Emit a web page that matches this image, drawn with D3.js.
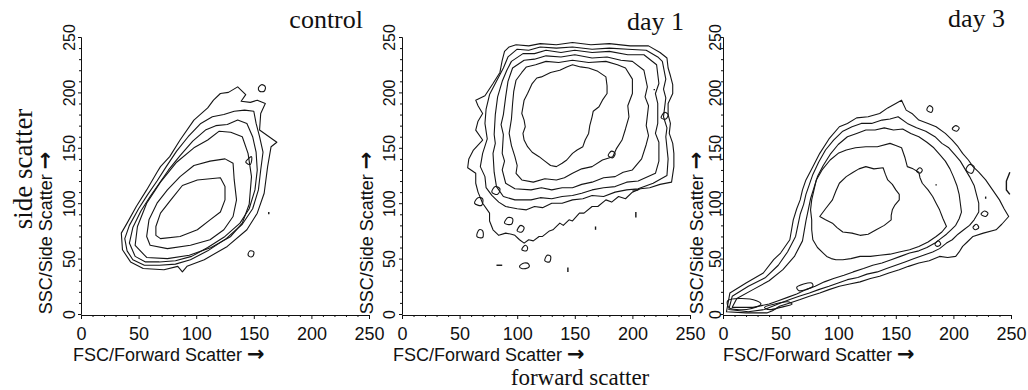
<!DOCTYPE html>
<html>
<head>
<meta charset="utf-8">
<script src="https://cdn.jsdelivr.net/npm/d3@7"></script>
<style>
  body { margin: 0; background: #fff; }
  svg { display: block; }
</style>
</head>
<body>
<div id="chart"></div>
<script>
// Axis ticks
var majorTicks = [0, 50, 100, 150, 200, 250]
var minorTicks = [10, 20, 30, 40, 60, 70, 80, 90, 110, 120, 130, 140, 160, 170, 180, 190, 210, 220, 230, 240]

var panelTitles = ['control', 'day 1', 'day 3']
var xTitle = 'FSC/Forward Scatter '
var yTitle = 'SSC/Side Scatter '
var arrow = '\u2192'

// Contours: [FSC, SSC], outer ring first
var controlRings = [
  [[35,73],[40,82],[48,97],[57,112],[66,128],[69,133],[77,142],[86,157],[98,175],[110,186],[115,193],[121,199],[128,200],[136,205],[143,198],[139,192],[147,191],[153,193],[160,190],[156,181],[155,166],[166,158],[170,155],[165,151],[162,133],[159,109],[153,91],[144,76],[127,61],[107,49],[92,43],[88,38],[84,43],[72,40],[54,41],[43,47],[36,58]],
  [[38,68],[42,80],[50,95],[58,108],[66,120],[74,133],[83,147],[93,160],[104,172],[114,178],[124,180],[133,183],[142,184],[150,183],[152,172],[155,160],[158,146],[156,130],[154,112],[149,95],[140,81],[126,68],[110,57],[95,49],[82,45],[68,44],[55,44],[45,49],[40,57]],
  [[42,64],[45,78],[52,93],[60,106],[68,118],[76,130],[86,143],[97,156],[108,166],[117,170],[127,171],[136,175],[144,172],[149,160],[152,146],[153,130],[151,112],[146,95],[138,82],[125,70],[110,60],[96,52],[82,48],[68,47],[56,47],[47,52]],
  [[47,62],[49,79],[57,100],[69,119],[83,137],[98,150],[110,157],[120,165],[130,164],[140,160],[145,145],[148,124],[146,99],[140,82],[130,70],[113,60],[94,53],[75,50],[57,51]],
  [[57,70],[59,85],[66,100],[75,112],[86,124],[98,134],[112,138],[125,140],[132,136],[133,121],[135,103],[132,88],[124,76],[112,67],[95,62],[75,59],[60,62]],
  [[65,79],[69,91],[78,103],[88,116],[101,121],[121,123],[125,115],[125,103],[121,92],[112,85],[101,76],[86,70],[69,68],[65,71]]
]
var controlIslands = [
  [[154,204],[157,207],[160,205],[159,201],[155,201]],
  [[145,54],[147,57],[150,56],[149,52],[146,52]],
  [[143,137],[148,142],[147,135]]
]
var controlDashes = [
  [[163,90],[163,92]]
]

var day1Rings = [
  [[89,237],[93,241],[99,243],[110,242],[120,244],[134,243],[148,245],[164,243],[180,244],[198,242],[214,242],[224,236],[230,231],[231,222],[233,215],[235,207],[235,199],[231,190],[231,180],[233,172],[232,163],[235,154],[236,145],[236,133],[234,119],[224,117],[215,114],[207,113],[200,110],[194,104],[188,106],[182,101],[177,103],[170,97],[165,97],[158,91],[154,91],[148,84],[145,85],[140,80],[137,82],[131,76],[128,75],[122,70],[119,70],[114,66],[110,67],[106,64],[102,67],[98,71],[95,72],[90,73],[84,71],[79,76],[76,84],[76,91],[70,100],[66,110],[64,118],[64,127],[57,132],[58,140],[62,148],[70,157],[64,166],[66,174],[70,181],[66,188],[64,193],[72,197],[79,208],[85,218],[87,229]],
  [[92,232],[100,239],[110,238],[120,241],[134,240],[148,241],[165,239],[180,240],[196,239],[212,238],[222,232],[226,228],[229,212],[227,203],[229,195],[227,178],[230,168],[229,160],[231,140],[230,125],[218,118],[205,113],[195,112],[185,110],[175,106],[165,107],[157,104],[148,103],[139,100],[130,100],[122,96],[115,97],[108,94],[100,95],[90,97],[84,101],[78,107],[73,114],[72,124],[68,133],[70,145],[74,158],[72,172],[73,185],[76,198],[82,210],[88,222]],
  [[95,228],[105,235],[115,235],[125,238],[138,236],[150,238],[165,236],[180,237],[196,234],[210,234],[221,225],[223,208],[220,199],[222,190],[222,172],[220,163],[223,155],[223,138],[220,127],[205,120],[195,119],[185,115],[175,114],[165,112],[156,109],[148,107],[139,106],[130,104],[120,105],[112,103],[98,103],[88,106],[82,115],[80,128],[79,145],[81,154],[80,162],[81,180],[83,196],[87,210],[91,220]],
  [[96,222],[106,229],[115,230],[125,233],[138,232],[150,234],[165,231],[178,232],[190,229],[200,228],[210,220],[213,205],[211,196],[214,188],[212,170],[214,161],[212,153],[208,140],[200,130],[192,128],[185,124],[175,123],[165,119],[156,117],[148,114],[139,114],[130,112],[121,114],[112,112],[98,113],[90,118],[87,130],[89,138],[87,145],[88,162],[86,171],[88,180],[90,196],[92,210]],
  [[99,211],[104,218],[108,223],[116,225],[125,228],[136,227],[148,229],[162,227],[177,228],[187,225],[194,222],[200,212],[200,199],[196,188],[197,178],[194,167],[191,157],[186,149],[183,142],[174,139],[165,133],[156,131],[148,127],[141,123],[134,121],[124,122],[114,119],[104,121],[99,127],[100,134],[98,142],[95,152],[93,163],[95,176],[96,190],[97,201]],
  [[113,208],[117,213],[121,214],[129,218],[137,220],[143,223],[148,225],[155,223],[162,222],[170,219],[177,214],[178,206],[178,199],[174,193],[171,187],[166,183],[165,178],[163,170],[162,163],[159,157],[157,151],[152,148],[148,145],[143,139],[139,136],[134,133],[129,134],[124,138],[119,142],[113,146],[109,151],[106,157],[105,163],[107,169],[106,175],[104,181],[105,187],[106,193],[109,199]]
]
var day1Islands = [
  [[65,70],[67,76],[70,75],[70,69]],
  [[63,100],[66,105],[70,104],[69,98]],
  [[78,110],[81,115],[85,113],[83,108]],
  [[89,82],[92,87],[96,86],[95,81]],
  [[100,75],[103,80],[106,78],[104,74]],
  [[104,58],[107,62],[109,60],[108,57]],
  [[124,48],[126,53],[129,52],[128,47]],
  [[102,43],[106,46],[110,45],[110,42],[104,41]],
  [[179,143],[182,147],[185,145],[183,141]],
  [[225,177],[228,182],[231,180],[229,176]]
]
var day1Dashes = [
  [[82,44],[87,44]], [[144,38],[144,42]], [[168,76],[168,79]], [[203,87],[203,92]], [[200,112],[205,112]], [[219,202],[219,203]]
]

var day3Rings = [
  [[3,2],[6,19],[20,28],[35,37],[44,49],[50,55],[58,67],[61,85],[64,95],[67,103],[69,112],[72,121],[78,133],[84,145],[92,158],[101,169],[108,172],[116,177],[126,178],[136,181],[143,186],[150,190],[155,193],[159,184],[164,181],[170,175],[178,172],[185,169],[193,163],[199,157],[204,151],[208,145],[213,139],[217,133],[222,128],[228,121],[234,112],[240,103],[244,95],[248,88],[242,81],[237,76],[226,73],[217,70],[212,65],[208,61],[205,56],[202,52],[195,51],[188,52],[179,48],[170,46],[161,43],[153,40],[144,37],[136,34],[128,32],[119,29],[110,27],[101,25],[92,22],[84,19],[75,16],[67,13],[58,10],[49,7],[43,3],[38,1],[20,1]],
  [[5,4],[8,16],[22,25],[37,33],[48,44],[56,56],[63,70],[65,80],[67,90],[70,99],[72,108],[75,117],[78,126],[83,137],[89,148],[96,157],[104,165],[112,169],[120,172],[129,172],[138,175],[145,176],[152,178],[160,172],[168,168],[176,165],[184,160],[190,154],[196,150],[201,144],[206,138],[210,131],[214,124],[218,116],[220,108],[222,100],[222,92],[218,85],[214,80],[209,76],[204,72],[199,67],[194,64],[188,59],[182,56],[174,53],[166,50],[158,47],[150,44],[142,41],[134,38],[125,36],[117,33],[108,31],[100,28],[92,25],[83,22],[75,19],[66,16],[58,13],[50,10],[43,7],[36,4],[22,2]],
  [[8,6],[12,14],[26,22],[40,30],[52,40],[62,52],[69,66],[72,84],[74,94],[76,104],[79,114],[82,124],[87,134],[93,144],[100,153],[108,160],[116,163],[124,166],[132,166],[140,168],[148,166],[156,167],[163,163],[170,160],[177,155],[183,150],[188,144],[193,138],[197,131],[200,124],[203,116],[205,108],[206,100],[207,92],[205,86],[202,80],[198,76],[194,72],[189,68],[184,64],[177,60],[170,57],[162,55],[154,52],[146,49],[138,46],[130,44],[122,41],[113,38],[105,35],[96,32],[88,29],[80,25],[72,22],[64,18],[56,15],[48,12],[40,9],[26,6]],
  [[78,67],[77,76],[77,85],[76,94],[77,103],[79,112],[81,121],[86,130],[93,139],[100,145],[107,148],[115,150],[124,151],[134,151],[145,154],[150,152],[155,150],[158,141],[160,133],[165,131],[170,128],[171,123],[173,118],[178,112],[182,106],[185,100],[188,94],[191,86],[194,79],[190,74],[185,70],[178,65],[170,61],[162,58],[153,56],[145,54],[136,53],[128,52],[119,52],[111,50],[104,49],[98,49],[94,50],[90,52],[87,55],[82,60]],
  [[84,88],[89,95],[95,103],[98,111],[101,118],[107,124],[113,128],[118,131],[124,133],[131,131],[139,132],[141,126],[143,121],[147,117],[150,112],[153,108],[153,103],[149,98],[147,94],[146,89],[146,85],[140,80],[133,76],[126,72],[119,71],[112,73],[104,74],[99,78],[95,82],[89,85]]
]
var day3Islands = [
  [[4,12],[15,14],[29,12],[33,9],[25,5],[12,4],[5,6]],
  [[36,6],[45,9],[56,11],[60,9],[50,6],[40,4]],
  [[64,24],[70,27],[77,28],[78,25],[72,22],[66,21]],
  [[177,184],[179,188],[182,186],[181,182]],
  [[199,167],[202,170],[205,168],[203,165]],
  [[168,129],[171,132],[173,130],[171,127]],
  [[211,130],[214,135],[218,133],[216,127]],
  [[224,90],[227,93],[230,91],[228,88]],
  [[217,78],[220,81],[222,78],[219,76]],
  [[184,63],[187,66],[189,63],[186,61]]
]
var day3Dashes = [
  [[228,104],[228,106]], [[185,116],[185,117]], [[249,128],[246,120],[246,112],[249,108]]
]

var panels = [
  {title: panelTitles[0], rings: controlRings, islands: controlIslands, dashes: controlDashes},
  {title: panelTitles[1], rings: day1Rings, islands: day1Islands, dashes: day1Dashes},
  {title: panelTitles[2], rings: day3Rings, islands: day3Islands, dashes: day3Dashes}
]

// Layout
var W = 1028, H = 390
var left = [81, 402, 723]
var plotW = 288
var yTop = 37, yBottom = 314
var tickLabelOff = [6, 7, 2]
var yTitleOff = [29, 29, 20]
var xTitleOff = [-8, -9, 0]
var xTitleBase = 361
var titleBase = [28, 30, 27]
var sansFont = 'Liberation Sans, Arial, sans-serif'
var serifFont = 'Liberation Serif, Times New Roman, serif'

var svg = d3.select('#chart').append('svg')
  .attr('width', W)
  .attr('height', H)

svg.append('rect').attr('width', W).attr('height', H).attr('fill', '#fff')

var y = d3.scaleLinear().domain([0, 250]).range([yBottom, yTop])

// contours are jagged in the scan, so straight segments
var ring = d3.line()
  .curve(d3.curveLinearClosed)
  .x(function(d) { return d.x })
  .y(function(d) { return d.y })
var smallRing = d3.line()
  .curve(d3.curveCatmullRomClosed)
  .x(function(d) { return d.x })
  .y(function(d) { return d.y })
var open = d3.line()
  .x(function(d) { return d.x })
  .y(function(d) { return d.y })

function arrowText(sel, label) {
  sel.append('tspan').text(label)
  sel.append('tspan').style('font-family', 'DejaVu Sans, sans-serif').style('font-size', '21px').style('font-weight', 'bold').text(arrow)
}

panels.forEach(function(p, i) {
  var x = d3.scaleLinear().domain([0, 250]).range([left[i], left[i] + plotW])
  var g = svg.append('g')

  var pts = function(arr) { return arr.map(function(d) { return {x: x(d[0]), y: y(d[1])} }) }

  // contours
  g.selectAll('.ring')
    .data(p.rings)
    .enter().append('path')
      .attr('class', 'ring')
      .attr('d', function(d) { return ring(pts(d)) })
      .style('fill', 'none')
      .style('stroke', '#151515')
      .style('stroke-width', 1.1)
      .style('stroke-linejoin', 'round')

  g.selectAll('.island')
    .data(p.islands)
    .enter().append('path')
      .attr('class', 'island')
      .attr('d', function(d) { return smallRing(pts(d)) })
      .style('fill', 'none')
      .style('stroke', '#151515')
      .style('stroke-width', 1.1)

  g.selectAll('.dash')
    .data(p.dashes)
    .enter().append('path')
      .attr('class', 'dash')
      .attr('d', function(d) { return open(pts(d)) })
      .style('fill', 'none')
      .style('stroke', '#151515')
      .style('stroke-width', 1.4)

  // x axis
  var xa = g.append('g')
    .attr('transform', 'translate(0,' + (yBottom + 1) + ')')
  xa.call(d3.axisBottom(x).tickValues(minorTicks).tickSize(2).tickSizeOuter(0).tickFormat(''))
  xa.append('g').call(d3.axisBottom(x).tickValues(majorTicks).tickSize(4).tickSizeOuter(0).tickPadding(8))
  xa.selectAll('text')
    .style('font-family', sansFont)
    .style('font-size', '18px')
    .attr('fill', '#111')
  xa.selectAll('path, line').attr('stroke', '#111')

  // y axis
  var ya = g.append('g')
    .attr('transform', 'translate(' + left[i] + ',0)')
  ya.call(d3.axisLeft(y).tickValues(minorTicks).tickSize(2).tickSizeOuter(0).tickFormat(''))
  ya.append('g').call(d3.axisLeft(y).tickValues(majorTicks).tickSize(3).tickSizeOuter(0))
  ya.selectAll('text')
    .attr('x', null)
    .attr('dy', null)
    .attr('transform', 'translate(' + (-tickLabelOff[i]) + ',0) rotate(-90)')
    .attr('text-anchor', 'middle')
    .style('font-family', sansFont)
    .style('font-size', '16px')
    .attr('fill', '#111')
  ya.selectAll('path, line').attr('stroke', '#111')

  // axis titles
  g.append('text')
    .attr('x', left[i] + xTitleOff[i])
    .attr('y', xTitleBase)
    .style('font-family', sansFont)
    .style('font-size', '18px')
    .attr('fill', '#111')
    .call(arrowText, xTitle)

  g.append('text')
    .attr('transform', 'translate(' + (left[i] - yTitleOff[i]) + ',' + 233 + ') rotate(-90)')
    .attr('text-anchor', 'middle')
    .style('font-family', sansFont)
    .style('font-size', '18px')
    .attr('fill', '#111')
    .call(arrowText, yTitle)

  // panel title
  g.append('text')
    .attr('x', left[i] + plotW - 6)
    .attr('y', titleBase[i])
    .attr('text-anchor', 'end')
    .style('font-family', serifFont)
    .style('font-size', '26px')
    .attr('fill', '#111')
    .text(p.title)
})

// shared titles
svg.append('text')
  .attr('transform', 'translate(32,169) rotate(-90)')
  .attr('text-anchor', 'middle')
  .style('font-family', serifFont)
  .style('font-size', '27px')
  .attr('fill', '#111')
  .text('side scatter')

svg.append('text')
  .attr('x', 580)
  .attr('y', 385)
  .attr('text-anchor', 'middle')
  .style('font-family', serifFont)
  .style('font-size', '23px')
  .attr('fill', '#111')
  .text('forward scatter')
</script>
</body>
</html>
